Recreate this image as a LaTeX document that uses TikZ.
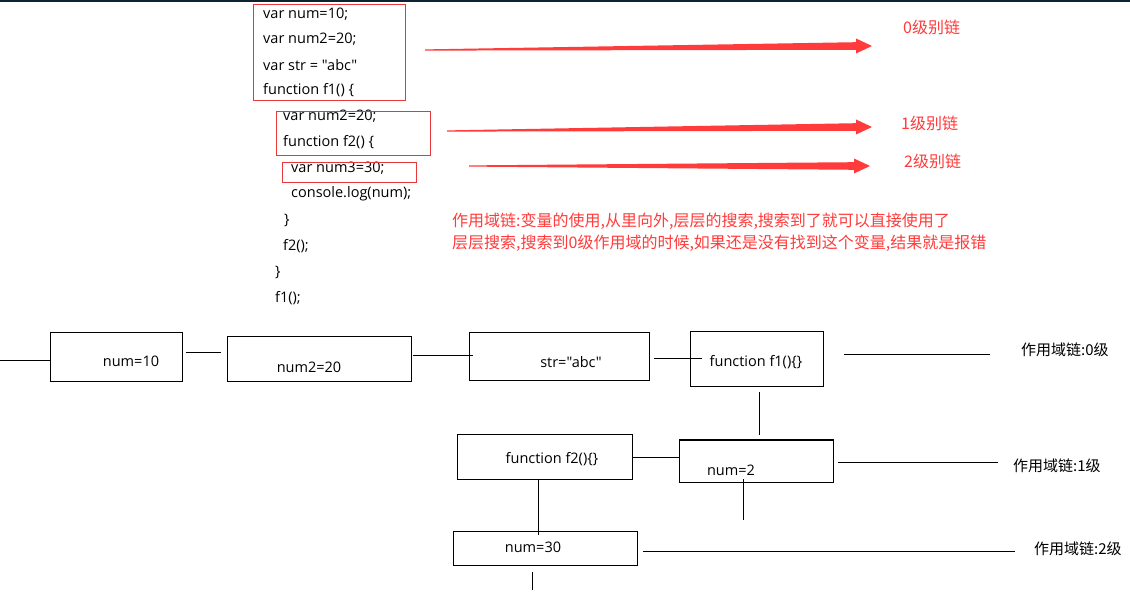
\documentclass[tikz,border=0pt]{standalone}
\usepackage{fontspec}
\setmainfont{Open Sans}[Ligatures=TeXOff]
\newfontfamily\cjk{Noto Sans CJK SC}
\usetikzlibrary{positioning}
\definecolor{chainred}{HTML}{FF3B3B}
\definecolor{boxred}{HTML}{E8373A}
\definecolor{topbar}{HTML}{0F2233}

% tapered red arrow: start x, start y, tip x, tip y
\newcommand{\chainarrow}[4]{%
  \fill[chainred] (#1,{#2-0.6}) -- ({#3-16},{#4-3.8}) -- ({#3-16},{#4-7.5})
    -- (#3,#4) -- ({#3-16},{#4+7.5}) -- ({#3-16},{#4+3.8}) -- (#1,{#2+0.6}) -- cycle;}

\tikzset{
  codeline/.style={anchor=west, inner sep=0pt, font=\fontsize{14.5}{17}\selectfont},
  boxtext/.style={inner sep=0pt, font=\fontsize{14.5}{17}\selectfont},
  redlabel/.style={anchor=west, inner sep=0pt, text=chainred, font=\cjk\fontsize{16}{19}\selectfont},
  levellabel/.style={anchor=west, inner sep=0pt, font=\cjk\fontsize{15}{18}\selectfont},
  redbox/.style={draw=boxred, line width=1pt},
  scopebox/.style={draw=black, line width=1pt, inner sep=0pt},
  link/.style={draw=black, line width=1pt}
}

\begin{document}
\begin{tikzpicture}[x=1pt,y=-1pt]
\useasboundingbox (0,0) rectangle (1130,601);
\fill[white] (0,0) rectangle (1130,601);
\fill[topbar] (0,0) rectangle (1130,1.6);

% code
\node[codeline] (l1) at (263,14) {var num=10;};
\node[codeline] (l2) at (263,39) {var num2=20;};
\node[codeline] (l3) at (263,65) {var str = "abc"};
\node[codeline] (l4) at (263,90) {function f1() \{};
\node[codeline] (l5) at (283,116) {var num2=20;};
\node[codeline] (l6) at (283,142) {function f2() \{};
\node[codeline] (l7) at (291,168) {var num3=30;};
\node[codeline] (l8) at (291,194) {console.log(num);};
\node[codeline] (l9) at (284,220) {\}};
\node[codeline] (l10) at (283,246) {f2();};
\node[codeline] (l11) at (275,272) {\}};
\node[codeline] (l12) at (275,298) {f1();};

\draw[redbox] (253,5) rectangle (405,101);
\draw[redbox] (276,112) rectangle (430,156);
\draw[redbox] (282,163) rectangle (416,183);

% chain arrows
\chainarrow{425}{50}{872}{46}
\chainarrow{447}{131}{872}{127}
\chainarrow{469}{166}{870}{166}

\node[redlabel] (lv0) at (903,27) {0级别链};
\node[redlabel] (lv1) at (901,123) {1级别链};
\node[redlabel] (lv2) at (904,161) {2级别链};

\node[redlabel] (note1) at (452,221) {作用域链:变量的使用,从里向外,层层的搜索,搜索到了就可以直接使用了};
\node[redlabel] (note2) at (452,243) {层层搜索,搜索到0级作用域的时候,如果还是没有找到这个变量,结果就是报错};

% scope chain boxes
\node[scopebox, minimum width=132pt, minimum height=49pt] (b10) at (116,357.5) {};
\node[scopebox, minimum width=184pt, minimum height=45pt] (b20) at (319,359.5) {};
\node[scopebox, minimum width=180pt, minimum height=48pt] (bstr) at (559,357) {};
\node[scopebox, minimum width=133pt, minimum height=55pt] (bf1) at (756.5,359.5) {};
\node[scopebox, minimum width=175pt, minimum height=44pt] (bf2) at (544.5,457) {};
\node[scopebox, minimum width=154pt, minimum height=42pt] (bn2) at (756,461) {};
\node[scopebox, minimum width=184pt, minimum height=34pt] (bn30) at (545,548) {};

\node[boxtext] (t10) at (131,361) {num=10};
\node[boxtext] (t20) at (309,367) {num2=20};
\node[boxtext] (tstr) at (571,362) {str="abc"};
\node[boxtext] (tf1) at (756,362) {function f1()\{\}};
\node[boxtext] (tf2) at (552,459) {function f2()\{\}};
\node[boxtext] (tn2) at (731,470) {num=2};
\node[boxtext] (tn30) at (533,547) {num=30};

\node[levellabel] (s0) at (1021,350) {作用域链:0级};
\node[levellabel] (s1) at (1013,466) {作用域链:1级};
\node[levellabel] (s2) at (1034,549) {作用域链:2级};

% links
\coordinate (e0) at (0,361);
\coordinate (e1a) at (186,353);
\coordinate (e1b) at (221,353);
\coordinate (e2a) at (413,356);
\coordinate (e2b) at (473,356);
\coordinate (e3a) at (654,359);
\coordinate (e3b) at (702,359);
\coordinate (e4a) at (844,355);
\coordinate (e4b) at (990,355);
\coordinate (v1a) at (759,392);
\coordinate (v1b) at (759,435);
\coordinate (v2a) at (743,479);
\coordinate (v2b) at (743,520);
\coordinate (e5a) at (838,462);
\coordinate (e5b) at (998,462);
\coordinate (v3a) at (538,479);
\coordinate (v3b) at (538,535);
\coordinate (e6a) at (643,551);
\coordinate (e6b) at (1015,551);
\coordinate (v4a) at (532,572);
\coordinate (v4b) at (532,590);

\draw[link] (e0) -- (e0 -| b10.west);
\draw[link] (e1a) -- (e1b);
\draw[link] (e2a) -- (e2b);
\draw[link] (e3a) -- (e3b);
\draw[link] (e4a) -- (e4b);
\draw[link] (v1a) -- (v1b);
\draw[link] (bf2.east) -- (bf2.east -| bn2.west);
\draw[link] (v2a) -- (v2b);
\draw[link] (e5a) -- (e5b);
\draw[link] (v3a) -- (v3b);
\draw[link] (e6a) -- (e6b);
\draw[link] (v4a) -- (v4b);
\end{tikzpicture}
\end{document}
